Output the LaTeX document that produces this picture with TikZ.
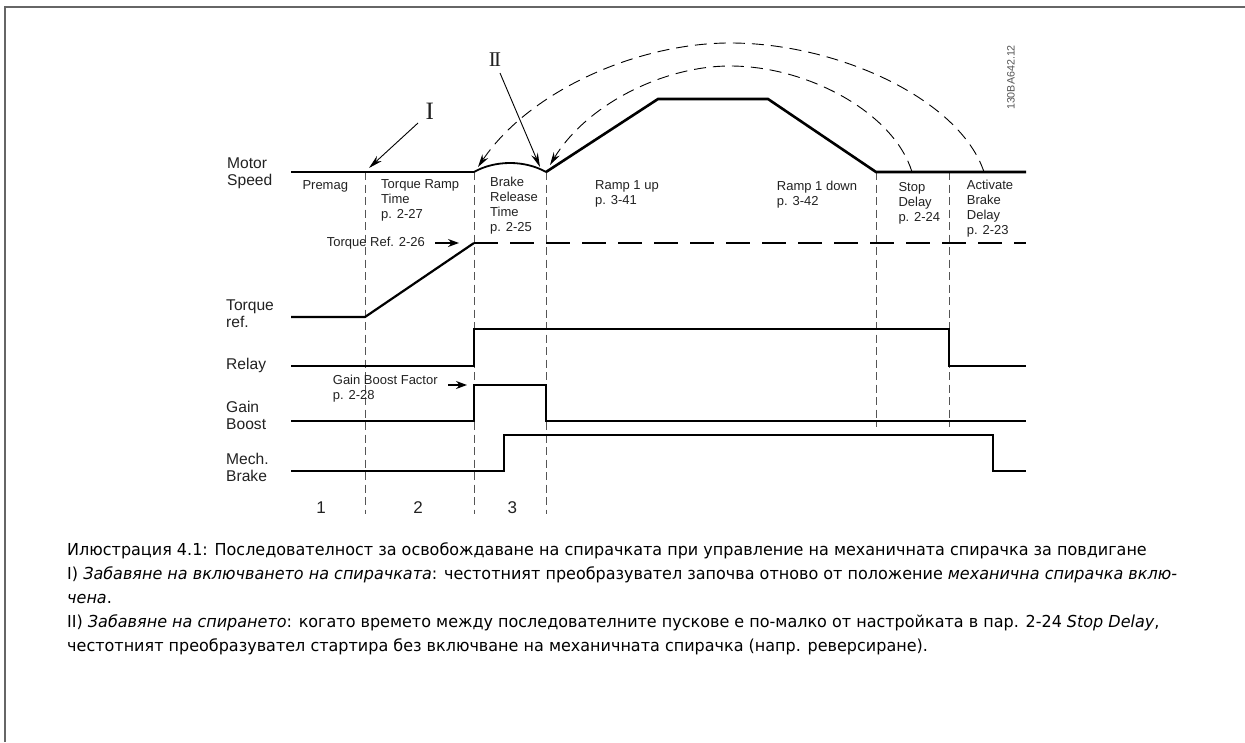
\documentclass[tikz,border=0pt]{standalone}
\usepackage{fontspec}
\setmainfont{Liberation Sans}
\newfontfamily\capfont[FakeStretch=0.97]{DejaVu Sans}
\newfontfamily\romfont{Liberation Serif}
\usetikzlibrary{arrows.meta}
\definecolor{txt}{HTML}{222222}
\definecolor{guidegray}{HTML}{555555}
\definecolor{framegray}{HTML}{666666}
\tikzset{
  sig/.style={line width=2.2pt, black, line join=miter},
  speedsig/.style={line width=2.6pt, black, line join=miter},
  guide/.style={line width=0.9pt, guidegray, dash pattern=on 8pt off 4.5pt},
  refdash/.style={line width=2.6pt, black, dash pattern=on 24pt off 12pt},
  arcdash/.style={line width=0.9pt, black, dash pattern=on 12pt off 7pt, -{Stealth[length=13pt,width=7pt]}},
  ptr/.style={line width=0.9pt, black, -{Stealth[length=14pt,width=7pt]}},
  shortptr/.style={line width=1.2pt, black, -{Stealth[length=11pt,width=8pt]}},
  biglbl/.style={font=\fontsize{15.6}{17}\selectfont, txt, inner sep=0pt, align=left, anchor=north west},
  lbl/.style={font=\fontsize{13}{15}\selectfont, txt, inner sep=0pt, align=left, anchor=north west},
  numlbl/.style={font=\fontsize{17}{18}\selectfont, txt, inner sep=0pt, anchor=base},
  capline/.style={font=\capfont\fontsize{16.5}{18}\selectfont, black, inner sep=0pt, anchor=base west},
}
\begin{document}
\begin{tikzpicture}[x=1pt,y=-1pt]
\useasboundingbox (0,0) rectangle (1245,742);
\fill[white] (0,0) rectangle (1245,742);
% frame
\draw[framegray, line width=1.5pt] (5,742) -- (5,7) -- (1245,7);

% guide lines
\draw[guide] (365,172) -- (365,514);
\draw[guide] (474,172) -- (474,514);
\draw[guide] (546,172) -- (546,514);
\draw[guide] (876,172) -- (876,427);
\draw[guide] (949,172) -- (949,427);

% motor speed
\draw[speedsig] (291,172) -- (474,172);
\draw[line width=1.8pt, black] (474,172) .. controls (495,160) and (525,160) .. (546,172);
\draw[speedsig] (546,172) -- (658,99) -- (768,99) -- (876,172) -- (1026,172);

% torque ref
\draw[sig] (291,317) -- (365,317) -- (474,243);
\draw[refdash] (474,243) -- (1026,243);

% relay
\draw[sig] (291,366) -- (474,366) -- (474,329) -- (949,329) -- (949,366) -- (1026,366);
% gain boost
\draw[sig] (291,421) -- (474,421) -- (474,385) -- (546,385) -- (546,421) -- (1026,421);
% mech brake
\draw[sig] (291,471) -- (504,471) -- (504,435) -- (993,435) -- (993,471) -- (1026,471);

% dashed arcs
\draw[arcdash] (984,172) .. controls (960,100) and (840,44) .. (733,43)
   .. controls (640,42) and (530,90) .. (478,167);
\draw[arcdash] (912,172) .. controls (894,113) and (808,66) .. (730,66)
   .. controls (664,66) and (587,104) .. (550,165);

% roman labels and pointers
\node[font=\romfont\fontsize{25}{25}\selectfont, txt, inner sep=0pt] (romI) at (429.7,111) {I};
\node[font=\romfont\fontsize{21}{21}\selectfont, txt, inner sep=0pt] (romII) at (495,60) {I\kern-1.6pt I};
\coordinate (tipI) at (369,168);
\coordinate (tipII) at (540,167);
\draw[ptr] (418,123) -- (tipI);
\draw[ptr] (500,73) -- (tipII);

% left labels
\node[biglbl] (lmotor) at (227,157.7) {Motor\\Speed};
\node[biglbl] (ltorque) at (226,299.3) {Torque\\ref.};
\node[biglbl] (lrelay) at (226,358.3) {Relay};
\node[biglbl] (lgain) at (226,401) {Gain\\Boost};
\node[biglbl] (lmech) at (226,453.3) {Mech.\\Brake};

% phase labels
\node[lbl] (premag) at (302.3,180) {Premag};
\node[lbl] (tramp) at (381,179) {Torque Ramp\\Time\\p. 2-27};
\node[lbl] (brel) at (490,176.7) {Brake\\Release\\Time\\p. 2-25};
\node[lbl] (rup) at (595,180.7) {Ramp 1 up\\p. 3-41};
\node[lbl] (rdown) at (776.7,180.7) {Ramp 1 down\\p. 3-42};
\node[lbl] (sdelay) at (898.3,182) {Stop\\Delay\\p. 2-24};
\node[lbl] (abdelay) at (966.7,180) {Activate\\Brake\\Delay\\p. 2-23};

\node[lbl] (trefl) at (326.7,237.3) {Torque Ref. 2-26};
\draw[shortptr] (435,243) -- (459,243);
\node[lbl] (gbf) at (332.7,375.3) {Gain Boost Factor\\p. 2-28};
\draw[shortptr] (448,385) -- (467,385);

% phase numbers
\node[numlbl] (n1) at (321,513) {1};
\node[numlbl] (n2) at (418,513) {2};
\node[numlbl] (n3) at (512.3,513) {3};

% drawing code
\node[font=\fontsize{10.7}{11}\selectfont, guidegray, rotate=90, inner sep=0pt] (code) at (1011,77.5) {130BA642.12};

% caption
\node[capline] (c1) at (67,555) {Илюстрация 4.1: Последователност за освобождаване на спирачката при управление на механичната спирачка за повдигане};
\node[capline] (c2) at (67,579) {I) \textit{Забавяне на включването на спирачката}: честотният преобразувател започва отново от положение \textit{механична спирачка вклю-}};
\node[capline] (c3) at (67,603) {\textit{чена}.};
\node[capline] (c4) at (67,627) {II) \textit{Забавяне на спирането}: когато времето между последователните пускове е по-малко от настройката в пар. 2-24 \textit{Stop Delay},};
\node[capline] (c5) at (67,651) {честотният преобразувател стартира без включване на механичната спирачка (напр. реверсиране).};
\end{tikzpicture}
\end{document}
